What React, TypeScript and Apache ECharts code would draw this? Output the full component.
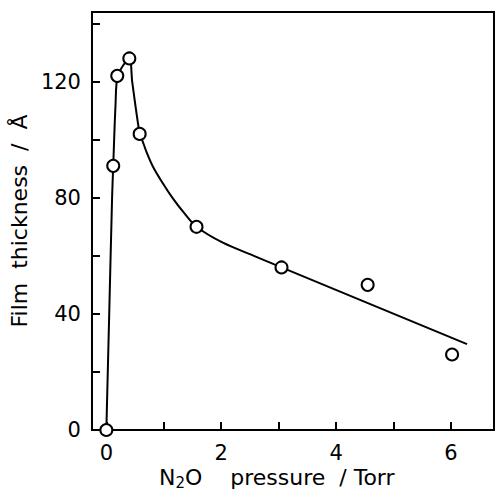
import React, { useEffect, useRef } from "react";
import * as echarts from "echarts";

// Measured points: N2O pressure (Torr), film thickness (Å)
const pressure = [0, 0.12, 0.19, 0.4, 0.58, 1.57, 3.05, 4.55, 6.02];
const thickness = [0, 91, 122, 128, 102, 70, 56, 50, 26];

// Hand-drawn guide curve through the data
const curveX = [0, 0.05, 0.1, 0.12, 0.16, 0.2, 0.4, 0.45, 0.58, 0.626, 0.695, 0.81, 0.98, 1.155, 1.357, 1.57, 2.02, 2.59, 3.05, 6.28];
const curveY = [0, 40, 80, 91, 112, 122, 128, 120, 102, 99.8, 96, 90.8, 85.1, 79.9, 74.7, 70, 64.6, 59.8, 56, 29.6];

const xLabelValues = [0, 2, 4, 6];
const xTickValues = [0, 1, 2, 3, 4, 5, 6];
const yLabelValues = [0, 40, 80, 120];
const yTickValues = [0, 20, 40, 60, 80, 100, 120, 140];

const FONT = "DejaVu Sans";

export default function App() {
  const ref = useRef<HTMLDivElement>(null);
  useEffect(() => {
    if (!ref.current) return;
    const chart = echarts.init(ref.current, null, { renderer: "svg" });
    chart.setOption({
      animation: false,
      backgroundColor: "#fff",
      grid: {
        left: 88,
        right: 4,
        top: 12,
        bottom: 69,
        show: true,
        borderColor: "#000",
        borderWidth: 2,
      },
      xAxis: {
        type: "value",
        min: -0.25,
        max: 6.75,
        axisLine: { show: true, onZero: false, lineStyle: { color: "#000", width: 2 } },
        axisTick: {
          show: true,
          inside: true,
          length: 8,
          customValues: xTickValues,
          lineStyle: { color: "#000", width: 2 },
        },
        axisLabel: {
          customValues: xLabelValues,
          color: "#000",
          fontFamily: FONT,
          fontSize: 21,
          margin: 12,
        },
        splitLine: { show: false },
      },
      yAxis: {
        type: "value",
        min: 0,
        max: 144,
        axisLine: { show: true, onZero: false, lineStyle: { color: "#000", width: 2 } },
        axisTick: {
          show: true,
          inside: true,
          length: 8,
          customValues: yTickValues,
          lineStyle: { color: "#000", width: 2 },
        },
        axisLabel: {
          customValues: yLabelValues,
          color: "#000",
          fontFamily: FONT,
          fontSize: 21,
          margin: 11,
        },
        splitLine: { show: false },
        name: "Film  thickness  /  Å",
        nameLocation: "middle",
        nameGap: 40,
        nameRotate: 90,
        nameTextStyle: { color: "#000", fontFamily: FONT, fontSize: 22 },
      },
      graphic: [
        {
          type: "text",
          left: 159,
          top: 466,
          style: {
            text: "N{sub|2}O    pressure  / Torr",
            fill: "#000",
            font: `22px "${FONT}"`,
            rich: {
              sub: { fontSize: 15, fontFamily: FONT, fill: "#000", padding: [11, 0, 0, 0] },
            },
          },
        },
      ],
      series: [
        {
          type: "line",
          data: curveX.map((x, i) => [x, curveY[i]]),
          smooth: 0.3,
          showSymbol: false,
          lineStyle: { color: "#000", width: 2 },
          z: 2,
        },
        {
          type: "scatter",
          data: pressure.map((x, i) => [x, thickness[i]]),
          symbol: "circle",
          symbolSize: 12,
          itemStyle: { color: "#fff", borderColor: "#000", borderWidth: 2, opacity: 1 },
          z: 3,
        },
      ],
    });
    return () => chart.dispose();
  }, []);
  return <div ref={ref} style={{ width: 498, height: 499, position: "absolute", left: 0, top: 0 }} />;
}
